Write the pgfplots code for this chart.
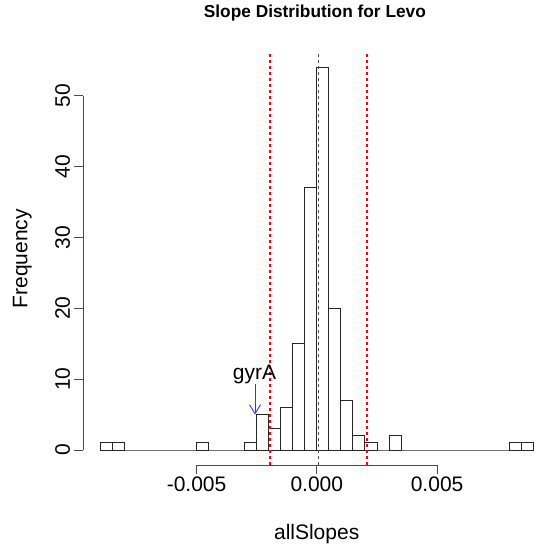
\documentclass[border=0pt]{standalone}
\usepackage{fontspec}
\setmainfont{Liberation Sans}
\usepackage{pgfplots}
\pgfplotsset{compat=1.18}
\usepackage{pgfplotstable}
\usetikzlibrary{arrows.meta}

% Histogram counts per bin (bin width 0.0005); last row closes the final interval
\pgfplotstableread{
left count
-0.0090 1
-0.0085 1
-0.0080 0
-0.0075 0
-0.0070 0
-0.0065 0
-0.0060 0
-0.0055 0
-0.0050 1
-0.0045 0
-0.0040 0
-0.0035 0
-0.0030 1
-0.0025 5
-0.0020 3
-0.0015 6
-0.0010 15
-0.0005 37
0.0000 54
0.0005 20
0.0010 7
0.0015 2
0.0020 1
0.0025 0
0.0030 2
0.0035 0
0.0040 0
0.0045 0
0.0050 0
0.0055 0
0.0060 0
0.0065 0
0.0070 0
0.0075 0
0.0080 1
0.0085 1
0.0090 1
}\slopes

\definecolor{rline}{RGB}{255,0,0}
\definecolor{mline}{RGB}{80,80,80}

\begin{document}
\begin{tikzpicture}
\begin{axis}[
  scale only axis,
  width=452pt, height=413.3pt,
  xmin=-0.00972, xmax=0.00907,
  ymin=-2.16, ymax=56.16,
  clip=false,
  scaled x ticks=false,
  unbounded coords=jump,
  axis line style={draw=none},
  xtick={-0.005,0,0.005},
  xticklabels={-0.005,0.000,0.005},
  ytick={0,10,20,30,40,50},
  yticklabels={0,10,20,30,40,50},
  xtick pos=bottom, ytick pos=left,
  tick align=outside,
  major tick length=8.5pt,
  tick style={black!70, line width=0.8pt},
  /pgf/number format/assume math mode=true,
  ticklabel style={font=\fontsize{21}{24}\selectfont},
  yticklabel style={rotate=90, anchor=south, inner sep=0pt},
  yticklabel shift=4.3pt,
  xticklabel style={anchor=north},
  title={\textbf{Slope Distribution for Levo}},
  title style={at={(axis description cs:0.513,1.068)}, anchor=base,
               font=\fontsize{17.3}{20}\selectfont},
  xlabel={allSlopes},
  xlabel style={at={(axis description cs:0.517,-0.1807)}, anchor=base,
                font=\fontsize{21}{24}\selectfont},
  ylabel={Frequency},
  ylabel style={at={(axis description cs:-0.1228,0.5)}, anchor=base,
                font=\fontsize{21}{24}\selectfont},
]
  % axis lines spanning the tick range only
  \draw[black!70, line width=0.8pt] (axis cs:-0.005,-2.16) -- (axis cs:0.005,-2.16);
  \draw[black!70, line width=0.8pt] (axis cs:-0.00972,0) -- (axis cs:-0.00972,50);

  % histogram bars
  \addplot[ybar interval, fill=white, draw=black!85, line width=0.9pt]
    table[x=left, y=count] {\slopes};

  % mean of the slopes
  \addplot[draw=mline, line width=0.9pt, dash pattern=on 3.5pt off 2.5pt, forget plot]
    coordinates {(0.00007,-2.16) (0.00007,56.16)};
  % mean +/- 2 sd
  \addplot[draw=rline, line width=1.2pt, dash pattern=on 3.5pt off 2.5pt, forget plot]
    coordinates {(-0.00195,-2.16) (-0.00195,56.16) (0,nan) (0.00209,-2.16) (0.00209,56.16)};

  % annotation for gyrA
  \draw[blue!80, line width=0.9pt, -{Straight Barb[length=9pt,width=11pt,line width=0.9pt]}]
    (axis cs:-0.00257,9.3) -- (axis cs:-0.00257,5.0);
  \node[anchor=base, inner sep=0pt, font=\fontsize{21}{24}\selectfont]
    at (axis cs:-0.00259,10.0) {gyrA};
\end{axis}
\pgfresetboundingbox
\path[use as bounding box] (-83pt,-78.7pt) rectangle (452pt,465.3pt);
\end{tikzpicture}
\end{document}
